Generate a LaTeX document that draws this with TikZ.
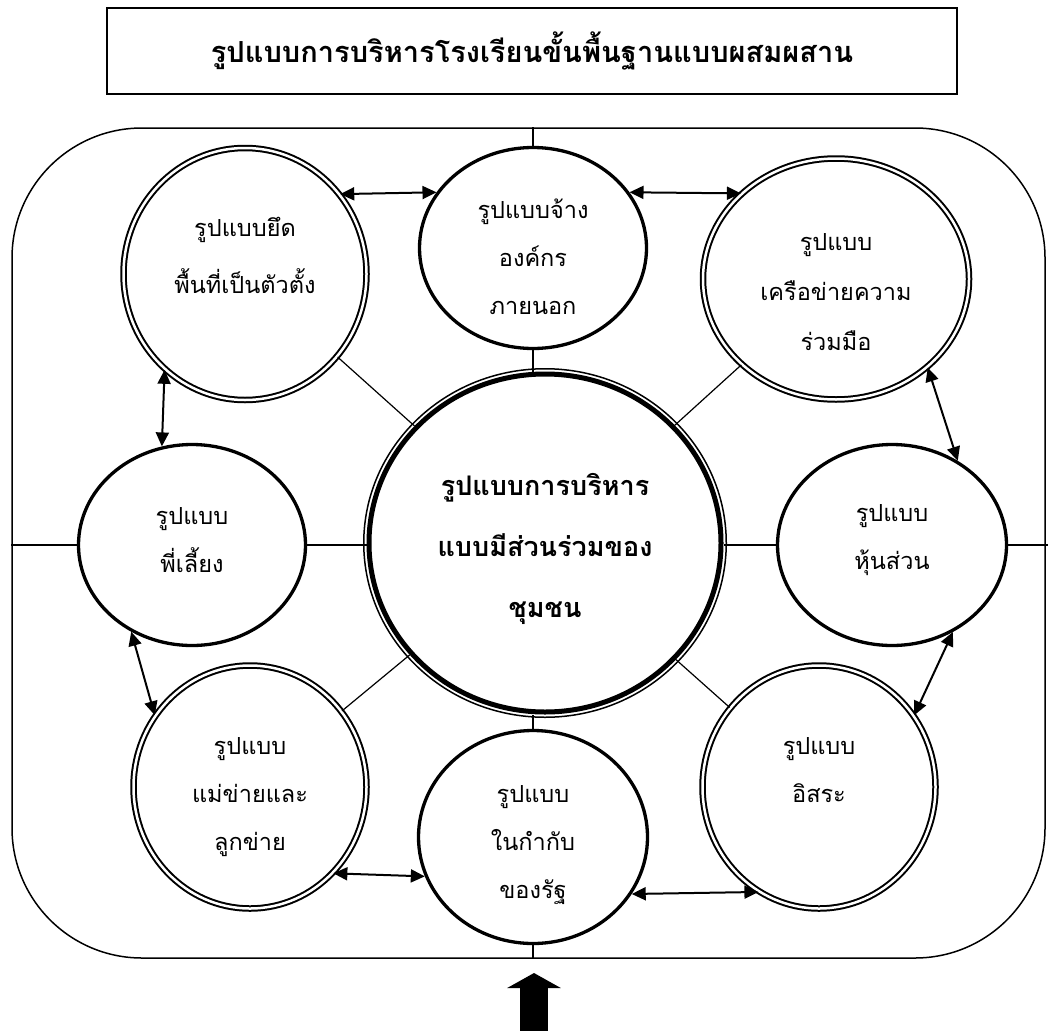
\documentclass[tikz,border=0pt]{standalone}
\usepackage{fontspec}
\newfontfamily\thaifont[Script=Thai]{Loma}
\usetikzlibrary{shapes.geometric,arrows.meta}

\begin{document}
\begin{tikzpicture}[x=1pt,y=-1pt,
    oval/.style={ellipse, draw, line width=3.3pt, inner sep=0pt},
    dbl/.style={ellipse, draw, line width=2pt, double, double distance=2.5pt, inner sep=0pt},
    lbl/.style={font=\thaifont\fontsize{23.5}{48}\selectfont, align=center},
    arr/.style={line width=2pt, {Triangle[length=14pt,width=13pt]}-{Triangle[length=14pt,width=13pt]}}]
    \useasboundingbox (0,0) rectangle (1048,1030);

    % title
    \node[draw, line width=2pt, minimum width=850pt, minimum height=86pt,
          font=\thaifont\bfseries\fontsize{29}{34}\selectfont] (title) at (532,51)
          {รูปแบบการบริหารโรงเรียนขั้นพื้นฐานแบบผสมผสาน};

    % frame round everything
    \node[draw, line width=1.5pt, rounded corners=130pt, minimum width=1033pt,
          minimum height=830pt] (frame) at (528.5,543) {};

    % middle
    \node[ellipse, draw, line width=5pt, minimum width=352pt, minimum height=338pt,
          label={[font=\thaifont\bfseries\fontsize{27}{61}\selectfont, align=center, yshift=-6pt]center:{รูปแบบการบริหาร\\แบบมีส่วนร่วมของ\\ชุมชน}}]
          (ctr) at (545,543) {};
    \draw[line width=1.5pt] (ctr.center) ellipse [x radius=181.25, y radius=174.25];

    % the eight forms
    \node[dbl, minimum width=243pt, minimum height=252pt,
          label={[lbl, yshift=19pt]center:{รูปแบบยึด\\[9pt]พื้นที่เป็นตัวตั้ง}}] (tl) at (245,274) {};
    \node[oval, minimum width=227pt, minimum height=201pt,
          label={[lbl, yshift=-9pt]center:{รูปแบบจ้าง\\องค์กร\\ภายนอก}}] (top) at (533,248) {};
    \node[dbl, minimum width=266pt, minimum height=241pt,
          label={[lbl, yshift=-13pt]center:{รูปแบบ\\[2pt]เครือข่ายความ\\[2pt]ร่วมมือ}}] (tr) at (836,279) {};
    \node[oval, minimum width=227pt, minimum height=201pt,
          label={[lbl, yshift=5pt]center:{รูปแบบ\\พี่เลี้ยง}}] (lft) at (192,545) {};
    \node[oval, minimum width=229pt, minimum height=201pt,
          label={[lbl, yshift=5pt]center:{รูปแบบ\\หุ้นส่วน}}] (rgt) at (892,545) {};
    \node[dbl, minimum width=233pt, minimum height=243pt,
          label={[lbl, yshift=-10pt]center:{รูปแบบ\\แม่ข่ายและ\\ลูกข่าย}}] (bl) at (250,787) {};
    \node[oval, minimum width=229pt, minimum height=213pt,
          label={[lbl, yshift=-8pt]center:{รูปแบบ\\ในกำกับ\\ของรัฐ}}] (bot) at (533,837) {};
    \node[dbl, minimum width=233pt, minimum height=243pt,
          label={[lbl, yshift=17pt]center:{รูปแบบ\\อิสระ}}] (br) at (819,787) {};

    % spokes
    \coordinate (redge) at (1048,545);
    \draw[line width=1.2pt] (lft.west -| frame.west) -- (lft.west);
    \draw[line width=1.2pt] (lft.east) -- (lft.east -| ctr.west);
    \draw[line width=1.2pt] (rgt.west -| ctr.east) -- (rgt.west);
    \draw[line width=1.2pt] (rgt.east) -- (redge);
    \draw[line width=1.2pt] (top.north) -- (top.north |- frame.north);
    \draw[line width=1.2pt] (top.south) -- (top.south |- ctr.north);
    \draw[line width=1.2pt] (bot.north) -- (bot.north |- ctr.south);
    \draw[line width=1.2pt] (bot.south) -- (bot.south |- frame.south);
    \foreach \n in {tl,tr,bl,br}
        \draw[line width=1.2pt] (\n) -- (ctr);

    % arrows between neighbours
    \draw[arr] (tl.40) -- (top.150);
    \draw[arr] (top.30) -- (tr.138);
    \draw[arr] (tl.230) -- (lft.107);
    \draw[arr] (tr.-44) -- (rgt.52);
    \draw[arr] (lft.235) -- (bl.143);
    \draw[arr] (rgt.-55) -- (br.37);
    \draw[arr] (bl.-46) -- (bot.200);
    \draw[arr] (bot.-30) -- (br.240);

    % big arrow from below
    \coordinate (base) at (534,1034);
    \coordinate (tip) at (534,973);
    \draw[line width=28pt, -{Triangle[length=15pt,width=53pt]}] (base) -- (tip);
\end{tikzpicture}
\end{document}
